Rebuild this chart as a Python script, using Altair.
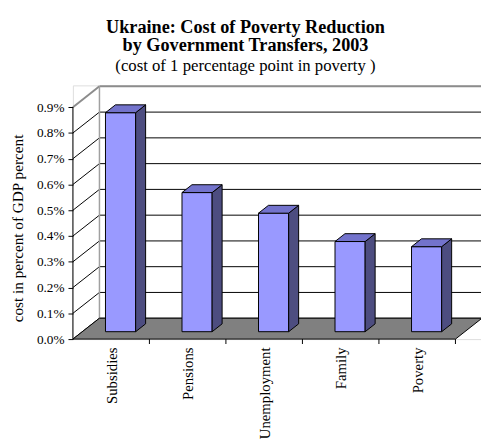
import altair as alt
import pandas as pd

# ---- data ----
categories = ["Subsidies", "Pensions", "Unemployment", "Family", "Poverty"]
values = [0.85, 0.54, 0.46, 0.35, 0.33]          # cost, percent of GDP
tick_values = [0.0, 0.1, 0.2, 0.3, 0.4, 0.5, 0.6, 0.7, 0.8, 0.9]

# ---- 3-D look (depth of the box and of the bars, in data units) ----
DX = 0.347      # depth offset along x (category units)
DY = 0.081      # depth offset along y (percent units)
D0, D1 = 0.354, 0.73   # bar depth span (0 = front, 1 = back wall)
HW = 0.197      # half width of a bar
XMAX = 5.334
YMAX = 0.9847
PLOT_W, PLOT_H = 415, 258

FONT = "Liberation Serif, Times New Roman, serif"
FRONT, SIDE, TOP = "#9999FF", "#4D4D80", "#7373CC"
WALL_EDGE = "#8C8C8C"

xs = alt.Scale(domain=[0, XMAX], nice=False, zero=False)
ys = alt.Scale(domain=[0, YMAX], nice=False, zero=False)

xaxis = alt.Axis(
    values=[i + 0.5 for i in range(len(categories))],
    labelExpr="['" + "','".join(categories) + "'][floor(datum.value)]",
    labelAngle=270, labelFont=FONT, labelFontSize=15, labelColor="black",
    labelPadding=8, ticks=False, domain=False, grid=False, title=None,
)
yaxis = alt.Axis(
    values=tick_values,
    labelExpr="format(datum.value, '.1f') + '%'",
    labelFont=FONT, labelFontSize=13.5, labelColor="black", labelPadding=4,
    tickSize=5, tickColor="black", domain=False, grid=False,
    title="cost in percent of GDP percent", titleFont=FONT, titleFontSize=15.5,
    titleFontWeight="normal", titleColor="black",
    titleX=-51, titleY=145, titleBaseline="alphabetic", titleAngle=270,
)

def X(field):
    return alt.X(field, type="quantitative", scale=xs, axis=xaxis)

def Y(field, **kw):
    return alt.Y(field, type="quantitative", scale=ys, axis=yaxis, **kw)

# ---- tables built from the lists ----
bars = pd.DataFrame({
    "cat": categories,
    "x0": [i + 0.5 - HW + D0 * DX for i in range(len(categories))],
    "x1": [i + 0.5 + HW + D0 * DX for i in range(len(categories))],
    "y0": [D0 * DY] * len(categories),
    "y1": [v + D0 * DY for v in values],
})

side_rows, top_rows = [], []
for i, (c, v) in enumerate(zip(categories, values)):
    for d in (D0, D1):
        side_rows.append({"cat": c, "x": i + 0.5 + HW + d * DX,
                          "ytop": v + d * DY, "ybot": d * DY})
        top_rows.append({"cat": c, "y": v + d * DY,
                         "xl": i + 0.5 - HW + d * DX, "xr": i + 0.5 + HW + d * DX})
side = pd.DataFrame(side_rows)
top = pd.DataFrame(top_rows)

n = len(categories)
floor = pd.DataFrame({"y": [0, DY], "xl": [0, DX], "xr": [n, n + DX]})

back = pd.DataFrame({"y": [t + DY for t in tick_values],
                     "x": [DX] * len(tick_values),
                     "x2": [n + DX + 0.2] * len(tick_values),
                     "edge": [t == tick_values[-1] for t in tick_values]})
left = pd.DataFrame({"x": [0.0] * len(tick_values), "y": tick_values,
                     "x2": [DX] * len(tick_values),
                     "y2": [t + DY for t in tick_values],
                     "edge": [t == tick_values[-1] for t in tick_values]})
left_back = pd.DataFrame({"x": [DX], "y": [DY], "y2": [tick_values[-1] + DY]})
front_axis = pd.DataFrame({"x": [0.0], "y": [0.0], "y2": [tick_values[-1]]})
xticks = pd.DataFrame({"x": [float(i) for i in range(1, n + 1)], "y": [0.0] * n})

line_color = alt.condition("datum.edge", alt.value(WALL_EDGE), alt.value("black"))
line_width = alt.condition("datum.edge", alt.value(2), alt.value(1))

back_lines = alt.Chart(back).mark_rule().encode(
    x=X("x"), x2="x2", y=Y("y"), color=line_color, strokeWidth=line_width)
left_lines = alt.Chart(left).mark_rule().encode(
    x=X("x"), x2="x2", y=Y("y"), y2="y2", color=line_color, strokeWidth=line_width)
left_back_edge = alt.Chart(left_back).mark_rule(color="#A0A0A0", strokeWidth=1.5).encode(
    x=X("x"), y=Y("y"), y2="y2")

floor_area = alt.Chart(floor).mark_area(
    orient="horizontal", color="#808080", stroke="black", strokeWidth=1,
    interpolate="linear").encode(
    y=Y("y"), x=alt.X("xl", type="quantitative", scale=xs, axis=xaxis, stack=None),
    x2="xr")

front_faces = alt.Chart(bars).mark_rect(
    color=FRONT, stroke="black", strokeWidth=1).encode(
    x=X("x0"), x2="x1", y=Y("y0"), y2="y1")

side_faces = alt.Chart(side).mark_area(
    orient="vertical", color=SIDE, stroke="black", strokeWidth=1,
    interpolate="linear").encode(
    x=X("x"), y=Y("ytop", stack=None), y2="ybot", detail="cat:N")

top_faces = alt.Chart(top).mark_area(
    orient="horizontal", color=TOP, stroke="black", strokeWidth=1,
    interpolate="linear").encode(
    y=Y("y"), x=alt.X("xl", type="quantitative", scale=xs, axis=xaxis, stack=None),
    x2="xr", detail="cat:N")

front_axis_line = alt.Chart(front_axis).mark_rule(color="black", strokeWidth=1).encode(
    x=X("x"), y=Y("y"), y2="y2")

x_tick_marks = alt.Chart(xticks).mark_rule(color="black", strokeWidth=1).encode(
    x=X("x"), y=Y("y"), y2=alt.value(PLOT_H + 5))

chart = alt.layer(
    back_lines, left_lines, left_back_edge, floor_area,
    front_faces, side_faces, top_faces, front_axis_line, x_tick_marks,
).properties(
    width=PLOT_W, height=PLOT_H,
    padding={"left": 66, "top": 75, "right": 0, "bottom": 103},
    autosize=alt.AutoSizeParams(type="none"),
    title=alt.TitleParams(
        text=["Ukraine: Cost of Poverty Reduction", "by Government Transfers, 2003"],
        subtitle="(cost of 1 percentage point in poverty )",
        font=FONT, fontSize=18.5, fontWeight="bold", color="black",
        subtitleFont=FONT, subtitleFontSize=17, subtitleColor="black",
        anchor="middle", dx=-32, offset=12, lineHeight=19, subtitlePadding=3,
    ),
).configure_view(stroke=None).configure_axis(
    labelFont=FONT, titleFont=FONT, labelColor="black", titleColor="black",
).configure_axisLeft(labelFont=FONT, titleFont=FONT
).configure_axisBottom(labelFont=FONT, titleFont=FONT
).configure(font=FONT, style={"guide-label": {"font": FONT}, "guide-title": {"font": FONT}})

chart.save("out.html", embed_options={"renderer": "svg", "actions": False})
